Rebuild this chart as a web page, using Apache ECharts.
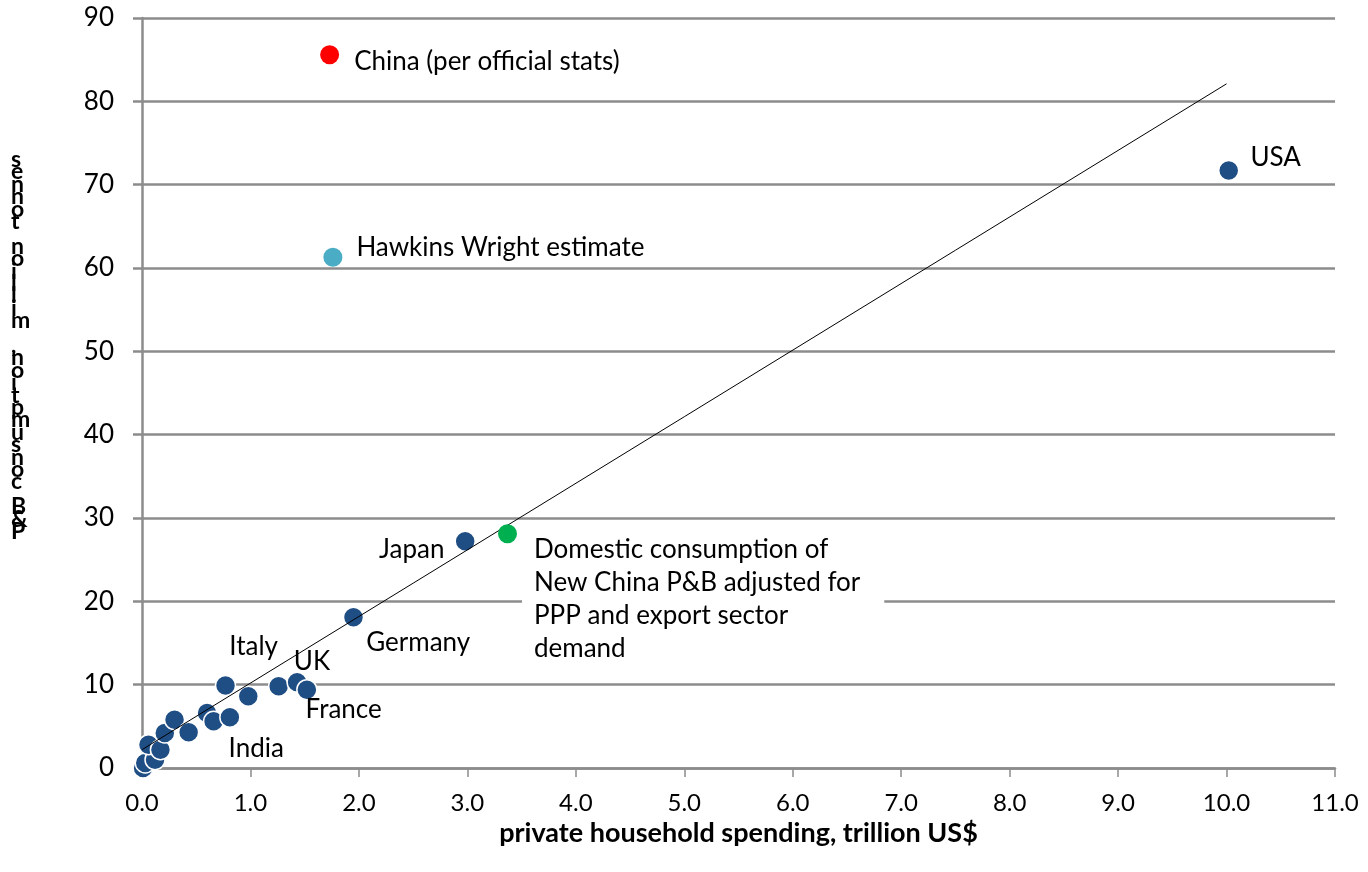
<!DOCTYPE html>
<html>
<head>
<meta charset="utf-8">
<script src="https://cdn.jsdelivr.net/npm/echarts@6/dist/echarts.min.js"></script>
<style>
  html, body { margin: 0; padding: 0; background: #fff; }
  #chart { width: 1368px; height: 872px; }
</style>
</head>
<body>
<div id="chart"></div>
<script>
  // blue country markers (trillion US$, million tonnes)
  var countryX = [0.01, 0.03, 0.12, 0.06, 0.17, 0.21, 0.30, 0.43, 0.60, 0.66, 0.81, 0.77, 0.98, 1.26, 1.43, 1.52, 1.95, 2.98, 10.02]
  var countryY = [0.0, 0.6, 1.0, 2.8, 2.2, 4.2, 5.8, 4.3, 6.6, 5.6, 6.1, 9.9, 8.6, 9.8, 10.3, 9.4, 18.1, 27.2, 71.7]
  var countryName = ['', '', '', '', '', '', '', '', '', '', 'India', 'Italy', '', '', 'UK', 'France', 'Germany', 'Japan', 'USA']

  var chinaOfficial = [1.73, 85.6]
  var hawkinsWright = [1.76, 61.3]
  var chinaAdjusted = [3.37, 28.1]

  var trendX = [0, 10]
  var trendY = [2.2, 82.1]

  var xTicks = [0, 1, 2, 3, 4, 5, 6, 7, 8, 9, 10, 11]

  var font = 'Lato, "Open Sans", sans-serif'
  var yName = 'P&B consumption, million tonnes'

  // label placement around the points
  var labelPos = {
    India: { position: 'right', offset: [-17, 31] },
    Italy: { position: 'right', offset: [-12, -39] },
    UK: { position: 'right', offset: [-19, -21] },
    France: { position: 'right', offset: [-17, 20] },
    Germany: { position: 'right', offset: [-3, 25] },
    Japan: { position: 'left', offset: [-5, 8] },
    USA: { position: 'right', offset: [6, -13] }
  }

  var countryData = countryX.map(function (x, i) {
    var item = { value: [x, countryY[i]], name: countryName[i] }
    var lp = labelPos[countryName[i]]
    if (lp) {
      item.label = { show: true, position: lp.position, offset: lp.offset, formatter: '{b}' }
    }
    return item
  })

  var chart = echarts.init(document.getElementById('chart'))
  chart.setOption({
    animation: false,
    backgroundColor: '#ffffff',
    textStyle: { fontFamily: font },
    grid: { left: 142, right: 33, top: 18, bottom: 104 },
    graphic: [
      {
        // the axis title comes out as stacked, reversed glyphs in the original
        type: 'text',
        left: 11,
        top: 148,
        style: {
          text: yName.split('').reverse().join('\n'),
          fontSize: 23,
          fontWeight: 'bold',
          fontFamily: font,
          lineHeight: 12.4,
          fill: '#000',
          align: 'center'
        }
      }
    ],
    xAxis: {
      type: 'value',
      min: xTicks[0],
      max: xTicks[xTicks.length - 1],
      interval: 1,
      name: 'private household spending, trillion US$',
      nameLocation: 'middle',
      nameGap: 48,
      nameTextStyle: { color: '#000', fontSize: 27, fontWeight: 'bold', fontFamily: font },
      axisLine: { lineStyle: { color: '#8c8c8c', width: 2.5 } },
      axisTick: { show: true, length: 9, lineStyle: { color: '#8c8c8c', width: 1.5 } },
      axisLabel: {
        color: '#000', fontSize: 24, margin: 23, fontFamily: font,
        formatter: function (v) { return v.toFixed(1) }
      },
      splitLine: { show: false }
    },
    yAxis: {
      type: 'value',
      min: 0,
      max: 90,
      interval: 10,
      axisLine: { show: true, lineStyle: { color: '#8c8c8c', width: 2.5 } },
      axisTick: { show: true, length: 9, lineStyle: { color: '#8c8c8c', width: 2.5 } },
      axisLabel: { color: '#000', fontSize: 26, margin: 28, fontFamily: font },
      splitLine: { show: true, lineStyle: { color: '#8c8c8c', width: 2.5 } }
    },
    series: [
      {
        name: 'trend',
        type: 'line',
        data: trendX.map(function (x, i) { return [x, trendY[i]] }),
        showSymbol: false,
        symbol: 'none',
        lineStyle: { color: '#000', width: 1 },
        z: 3,
        silent: true
      },
      {
        name: 'countries',
        type: 'scatter',
        data: countryData,
        symbol: 'circle',
        symbolSize: 20,
        itemStyle: { color: '#1f4e84', borderColor: '#fff', borderWidth: 1.5, opacity: 1 },
        label: { color: '#000', fontSize: 26, fontFamily: font },
        z: 2
      },
      {
        name: 'China (per official stats)',
        type: 'scatter',
        data: [chinaOfficial],
        symbolSize: 19,
        itemStyle: { color: '#ff0000', opacity: 1 },
        label: { show: true, position: 'right', offset: [10, 7], formatter: '{a}', color: '#000', fontSize: 26, fontFamily: font },
        z: 4
      },
      {
        name: 'Hawkins Wright estimate',
        type: 'scatter',
        data: [hawkinsWright],
        symbolSize: 19,
        itemStyle: { color: '#4bacc6', opacity: 1 },
        label: { show: true, position: 'right', offset: [9, -10], formatter: '{a}', color: '#000', fontSize: 26, fontFamily: font },
        z: 4
      },
      {
        name: 'Domestic consumption of\nNew China P&B adjusted for\nPPP and export sector\ndemand',
        type: 'scatter',
        data: [chinaAdjusted],
        symbolSize: 19,
        itemStyle: { color: '#00b050', opacity: 1 },
        label: {
          show: true, position: 'right', offset: [0, 65], formatter: '{a}',
          color: '#000', fontSize: 26, lineHeight: 33, fontFamily: font,
          backgroundColor: '#fff', padding: [6, 24, 6, 12]
        },
        z: 4
      }
    ]
  })
</script>
</body>
</html>
